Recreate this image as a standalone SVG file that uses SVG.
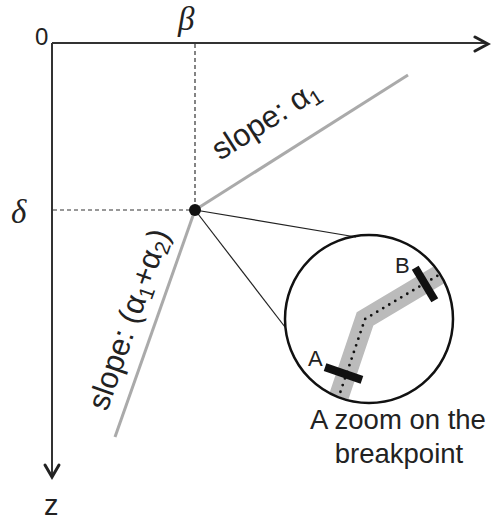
<svg xmlns="http://www.w3.org/2000/svg" width="491" height="521" viewBox="0 0 491 521">
<style>
.ax{stroke:#333;stroke-width:2;fill:none}
.arr{stroke:#222;stroke-width:3;fill:none;stroke-linecap:round;stroke-linejoin:miter}
.dash{stroke:#333;stroke-width:1.2;stroke-dasharray:4 3;fill:none}
.gray{stroke:#aaa;stroke-width:3;fill:none}
.thin{stroke:#222;stroke-width:1.2;fill:none}
.t{font-family:"Liberation Sans",Arial,sans-serif;fill:#222}
.g{font-family:"Liberation Serif","Times New Roman",serif;font-style:italic;fill:#222}
</style>
<defs>
<clipPath id="cc"><circle cx="369" cy="319" r="83"/></clipPath>
</defs>
<g id="axes">
<line class="ax" x1="52" y1="43" x2="486" y2="43"/>
<line class="ax" x1="52" y1="43" x2="52" y2="475"/>
<polyline class="arr" points="475,37 488,44 475,51"/>
<polyline class="arr" points="45,465 52,477 59,465"/>
<text class="t" x="35" y="45" font-size="24">0</text>
<text class="g" x="178" y="30" font-size="33">β</text>
<text class="g" x="11" y="223" font-size="33">δ</text>
<text class="t" x="44" y="515" font-size="29">z</text>
</g>
<g id="connectors">
<line class="dash" x1="195" y1="44" x2="195" y2="210"/>
<line class="dash" x1="53" y1="210" x2="195" y2="210"/>
<line class="gray" x1="195" y1="210" x2="408" y2="75"/>
<line class="gray" x1="195" y1="210" x2="115" y2="437"/>
<line class="thin" x1="195" y1="210" x2="356" y2="237"/>
<line class="thin" x1="195" y1="210" x2="285" y2="327"/>
</g>
<g id="breakpoint">
<circle cx="195" cy="210" r="6" fill="#111"/>
</g>
<g id="label-slope1">
<text class="t" font-size="31" transform="translate(220,161) rotate(-32.4)">slope: α<tspan font-size="21" dy="5">1</tspan></text>
</g>
<g id="label-slope2">
<text class="t" font-size="31" transform="translate(107,412) rotate(-70.6)">slope: (α<tspan font-size="21" dy="5">1</tspan><tspan dy="-5">+α</tspan><tspan font-size="21" dy="5">2</tspan><tspan dy="-5">)</tspan></text>
</g>
<g id="zoom">
<g clip-path="url(#cc)">
<polyline points="336,405 365,319 447,270" fill="none" stroke="#bbb" stroke-width="20" stroke-linejoin="miter"/>
<polyline points="336,405 365,319 447,270" fill="none" stroke="#111" stroke-width="2.8" stroke-dasharray="0 7" stroke-linecap="round"/>
</g>
<circle cx="369" cy="319" r="84" fill="none" stroke="#111" stroke-width="2.5"/>
<rect x="-19.5" y="-4" width="39" height="8" fill="#111" transform="translate(343.5,373.5) rotate(19)"/>
<rect x="-19" y="-4" width="38" height="8" fill="#111" transform="translate(425,284) rotate(59)"/>
<text class="t" x="308" y="366" font-size="22">A</text>
<text class="t" x="395" y="273" font-size="22">B</text>
<text class="t" font-size="27.5" text-anchor="middle" x="398" y="429">A zoom on the</text>
<text class="t" font-size="27.5" text-anchor="middle" x="399" y="463">breakpoint</text>
</g>
</svg>
